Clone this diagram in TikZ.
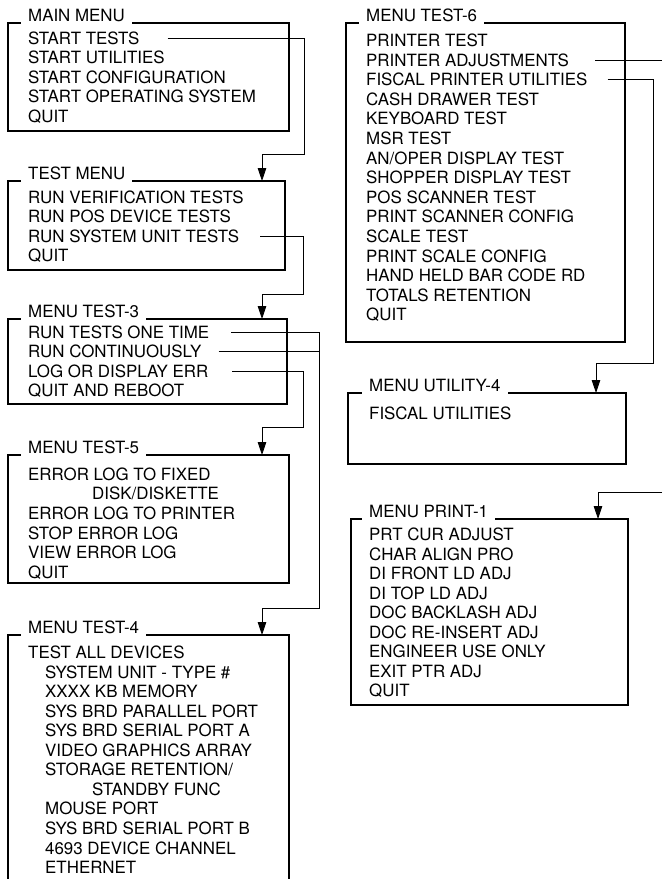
\documentclass[tikz,border=0pt]{standalone}
\usepackage{fontspec}
\setmainfont{TeX Gyre Heros}
\usepackage{tikz}
\usetikzlibrary{positioning, arrows.meta}
\tikzstyle{menubox} = [rectangle, draw=black, line width=1.1pt, anchor=north west, inner sep=0pt, outer sep=0pt]
\tikzstyle{menutitle} = [anchor=base west, fill=white, inner xsep=7pt, inner ysep=0pt, text height=12pt, text depth=4pt, font=\fontsize{16.9}{20}\selectfont]
\tikzstyle{entry} = [anchor=west, inner sep=0pt, text height=12pt, text depth=0pt, font=\fontsize{16.9}{20}\selectfont]
\tikzstyle{link} = [line width=0.8pt]
\tikzstyle{arrow} = [link, -{Triangle[width=8.5pt,length=13pt]}]

\begin{document}
\begin{tikzpicture}[x=1pt, y=-1pt]

\useasboundingbox (0,0) rectangle (662,879);
\clip (0,0) rectangle (662,879);

% boxes
\node (mainbox) [menubox, minimum width=281pt, minimum height=108pt] at (8,23) {};
\node (testbox) [menubox, minimum width=277pt, minimum height=89pt] at (8,181) {};
\node (threebox) [menubox, minimum width=279pt, minimum height=85pt] at (8,319) {};
\node (fivebox) [menubox, minimum width=281pt, minimum height=128pt] at (8,455) {};
\node (fourbox) [menubox, minimum width=281pt, minimum height=265pt] at (8,635) {};
\node (sixbox) [menubox, minimum width=279pt, minimum height=319pt] at (346,23) {};
\node (utilbox) [menubox, minimum width=278pt, minimum height=71pt] at (348,393) {};
\node (printbox) [menubox, minimum width=277pt, minimum height=186pt] at (351,519) {};

% titles
\node (maintitle) [menutitle] at (21,21.5) {MAIN MENU};
\node (testtitle) [menutitle] at (21,179.5) {TEST MENU};
\node (threetitle) [menutitle] at (21,317.5) {MENU TEST-3};
\node (fivetitle) [menutitle] at (21,453.5) {MENU TEST-5};
\node (fourtitle) [menutitle] at (21,633.5) {MENU TEST-4};
\node (sixtitle) [menutitle] at (359,21.5) {MENU TEST-6};
\node (utiltitle) [menutitle] at (362,391.5) {MENU UTILITY-4};
\node (printtitle) [menutitle] at (362,517.5) {MENU PRINT-1};

% main menu
\node (main1) [entry] at (28,38.2) {START TESTS};
\node (main2) [entry] at (28,57.7) {START UTILITIES};
\node (main3) [entry] at (28,77.2) {START CONFIGURATION};
\node (main4) [entry] at (28,96.7) {START OPERATING SYSTEM};
\node (main5) [entry] at (28,116.2) {QUIT};

% test menu
\node (test1) [entry] at (28,197.5) {RUN VERIFICATION TESTS};
\node (test2) [entry] at (28,216.9) {RUN POS DEVICE TESTS};
\node (test3) [entry] at (28,236.4) {RUN SYSTEM UNIT TESTS};
\node (test4) [entry] at (28,255.8) {QUIT};

% menu test-3
\node (three1) [entry] at (28,332.5) {RUN TESTS ONE TIME};
\node (three2) [entry] at (28,351.8) {RUN CONTINUOUSLY};
\node (three3) [entry] at (28,371.0) {LOG OR DISPLAY ERR};
\node (three4) [entry] at (28,390.3) {QUIT AND REBOOT};

% menu test-5
\node (five1) [entry] at (28,474.2) {ERROR LOG TO FIXED};
\node (five2) [entry] at (92,493.8) {DISK/DISKETTE};
\node (five3) [entry] at (28,513.4) {ERROR LOG TO PRINTER};
\node (five4) [entry] at (28,533.0) {STOP ERROR LOG};
\node (five5) [entry] at (28,552.6) {VIEW ERROR LOG};
\node (five6) [entry] at (28,572.2) {QUIT};

% menu test-4
\node (four1) [entry] at (28,652.5) {TEST ALL DEVICES};
\node (four2) [entry] at (45,672.1) {SYSTEM UNIT - TYPE \#};
\node (four3) [entry] at (45,691.6) {XXXX KB MEMORY};
\node (four4) [entry] at (45,711.2) {SYS BRD PARALLEL PORT};
\node (four5) [entry] at (45,730.7) {SYS BRD SERIAL PORT A};
\node (four6) [entry] at (45,750.3) {VIDEO GRAPHICS ARRAY};
\node (four7) [entry] at (45,769.8) {STORAGE RETENTION/};
\node (four8) [entry] at (92,789.4) {STANDBY FUNC};
\node (four9) [entry] at (45,808.9) {MOUSE PORT};
\node (four10) [entry] at (45,828.5) {SYS BRD SERIAL PORT B};
\node (four11) [entry] at (45,848.0) {4693 DEVICE CHANNEL};
\node (four12) [entry] at (45,867.6) {ETHERNET};

% menu test-6
\node (six1) [entry] at (366,40.5) {PRINTER TEST};
\node (six2) [entry] at (366,60.1) {PRINTER ADJUSTMENTS};
\node (six3) [entry] at (366,79.7) {FISCAL PRINTER UTILITIES};
\node (six4) [entry] at (366,99.3) {CASH DRAWER TEST};
\node (six5) [entry] at (366,118.9) {KEYBOARD TEST};
\node (six6) [entry] at (366,138.5) {MSR TEST};
\node (six7) [entry] at (366,158.1) {AN/OPER DISPLAY TEST};
\node (six8) [entry] at (366,177.7) {SHOPPER DISPLAY TEST};
\node (six9) [entry] at (366,197.3) {POS SCANNER TEST};
\node (six10) [entry] at (366,216.9) {PRINT SCANNER CONFIG};
\node (six11) [entry] at (366,236.5) {SCALE TEST};
\node (six12) [entry] at (366,256.1) {PRINT SCALE CONFIG};
\node (six13) [entry] at (366,275.7) {HAND HELD BAR CODE RD};
\node (six14) [entry] at (366,295.3) {TOTALS RETENTION};
\node (six15) [entry] at (366,314.9) {QUIT};

% menu utility-4
\node (util1) [entry] at (369,413.8) {FISCAL UTILITIES};

% menu print-1
\node (print1) [entry] at (369,534.5) {PRT CUR ADJUST};
\node (print2) [entry] at (369,554.0) {CHAR ALIGN PRO};
\node (print3) [entry] at (369,573.5) {DI FRONT LD ADJ};
\node (print4) [entry] at (369,593.0) {DI TOP LD ADJ};
\node (print5) [entry] at (369,612.5) {DOC BACKLASH ADJ};
\node (print6) [entry] at (369,632.0) {DOC RE-INSERT ADJ};
\node (print7) [entry] at (369,651.5) {ENGINEER USE ONLY};
\node (print8) [entry] at (369,671.0) {EXIT PTR ADJ};
\node (print9) [entry] at (369,690.5) {QUIT};

% bends
\coordinate (turn1) at (304,154);
\coordinate (turn2) at (303,294);
\coordinate (turn3) at (319,608);
\coordinate (turn4) at (303,427);
\coordinate (turn5) at (653,363);
\coordinate (edgeout) at (662,0);
\coordinate (edgein) at (662,492);

\draw [arrow] ([xshift=28pt]main1.east) -| (turn1) -| ([xshift=254pt]testbox.north west);
\draw [arrow] ([xshift=21pt]test3.east) -| (turn2) -| ([xshift=254pt]threebox.north west);
\draw [arrow] ([xshift=22pt]three1.east) -| (turn3) -| ([xshift=254pt]fourbox.north west);
\draw [link] ([xshift=17pt]three2.east) -- (three2.east -| turn3);
\draw [arrow] ([xshift=24pt]three3.east) -| (turn4) -| ([xshift=254pt]fivebox.north west);
\draw [link] ([xshift=26pt]six2.east) -- (six2.east -| edgeout);
\draw [arrow] ([xshift=20pt]six3.east) -| (turn5) -| ([xshift=248pt]utilbox.north west);
\draw [arrow] (edgein) -| ([xshift=247pt]printbox.north west);

\end{tikzpicture}
\end{document}
